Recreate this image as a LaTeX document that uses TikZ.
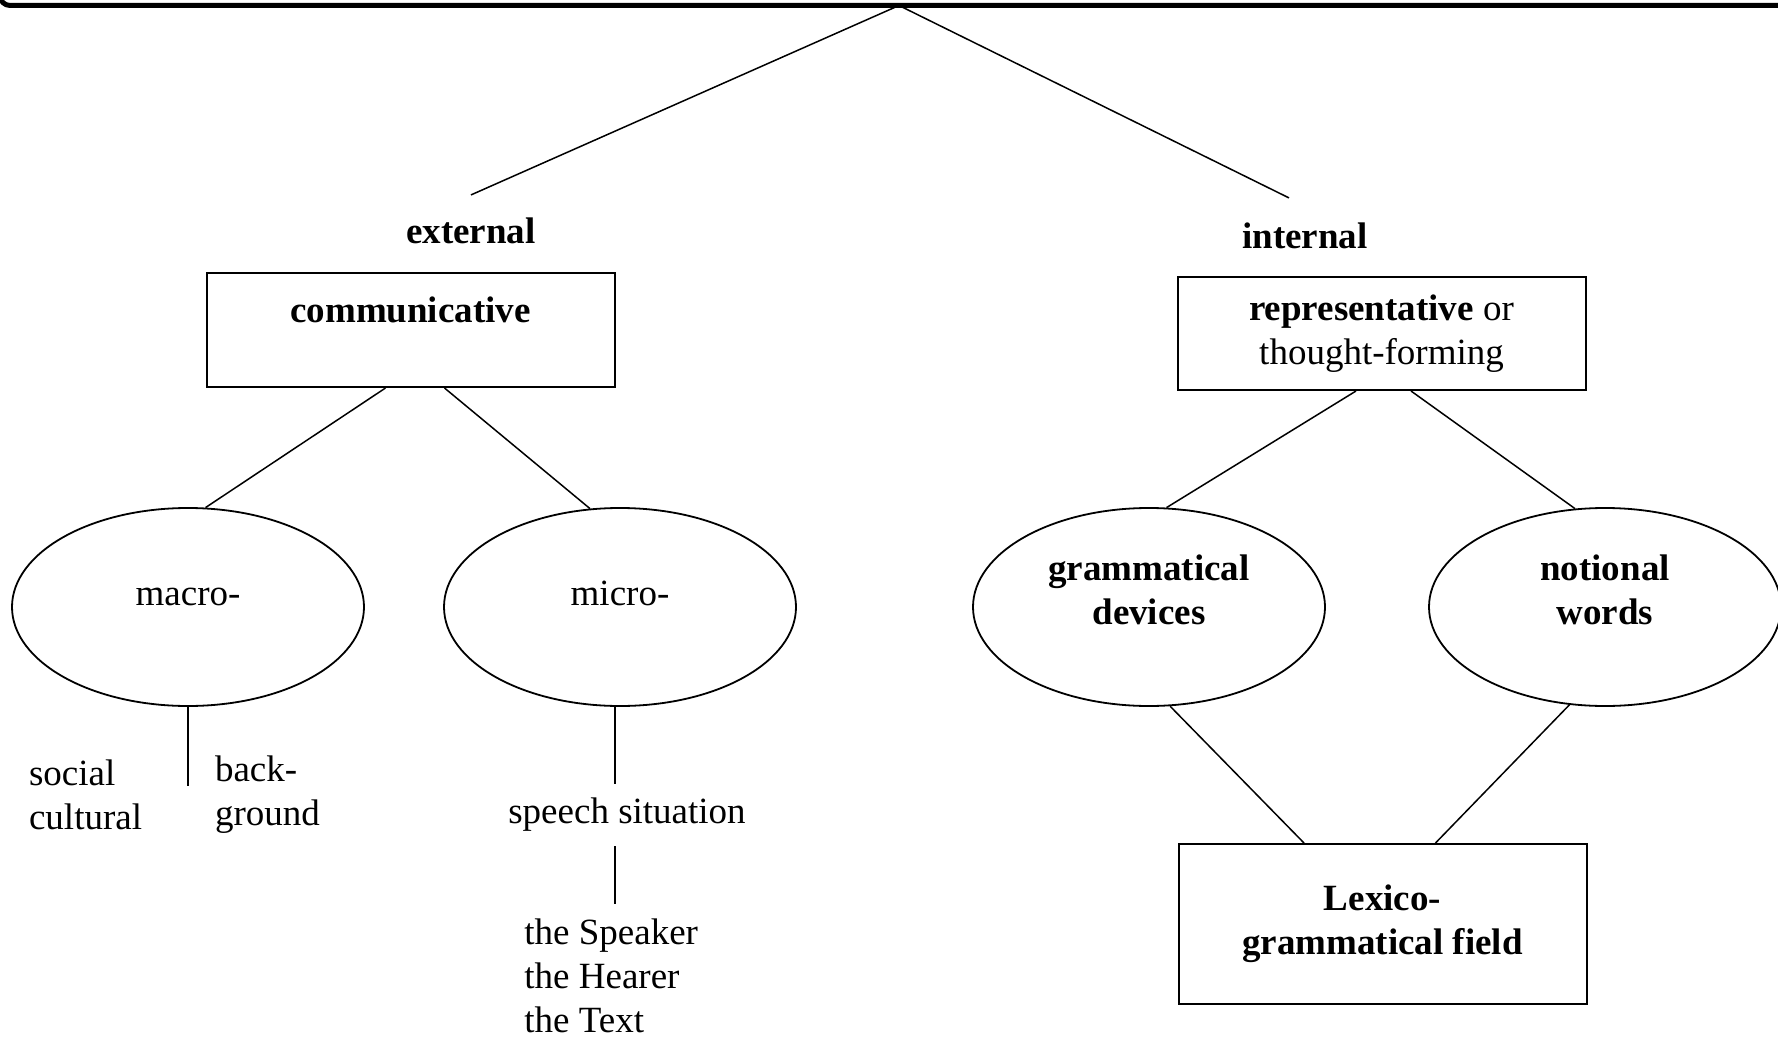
\documentclass[tikz,border=0pt]{standalone}
\usepackage{fontspec}
\setmainfont{Liberation Serif}
\usetikzlibrary{shapes.geometric}

\newcommand{\diagfont}{\fontsize{18.5pt}{22pt}\selectfont}

\tikzset{
    frame/.style={draw, rectangle, line width=1pt, minimum width=204pt, inner sep=0pt, align=center},
    oval/.style={draw, ellipse, line width=0.9pt, minimum width=176pt, minimum height=99pt, inner sep=0pt},
    bold/.style={font=\diagfont\bfseries},
    txt/.style={inner sep=7pt, align=center},
    branch/.style={line width=0.75pt},
}

\begin{document}
\begin{tikzpicture}[x=0.5pt, y=-0.5pt, font=\diagfont]
    \useasboundingbox (0,0) rectangle (1778,1038);
    \clip (0,0) rectangle (1778,1038);

    % top edge of the frame above
    \draw[line width=2.5pt, rounded corners=5pt] (0,-20) -- (0,5.5) -- (1800,5.5);
    \coordinate (apex) at (899,5.5);

    \node[bold] (ext) at (471,231) {external};
    \node[bold] (int) at (1305,236) {internal};

    \node[frame, bold, text height=24.5pt, text depth=32.5pt] (comm) at (410.5,330) {communicative};
    \node[frame, minimum height=56.5pt] (rep) at (1381.5,333.5) {\textbf{representative} or\\thought-forming};

    \node[oval] (macro) at (188,607) {};
    \node[oval] (micro) at (620,607) {};
    \node[oval] (gram) at (1149,607) {};
    \node[oval] (notion) at (1605,607) {};

    \node (macrotxt) at ([yshift=4.8pt]macro.center) {macro-};
    \node (microtxt) at ([yshift=7pt]micro.center) {micro-};
    \node[bold, align=center] (gramtxt) at ([yshift=8.5pt]gram.center) {grammatical\\devices};
    \node[bold, align=center] (notiontxt) at ([yshift=8.5pt]notion.center) {notional\\words};

    \node[anchor=west, align=left] (social) at (22,795) {social\\cultural};
    \node[anchor=west, align=left] (backgr) at (208,795) {back-\\ground};
    \node[txt] (speech) at (627,815) {speech situation};
    \node[txt, anchor=north west, align=left] (parts) at (510,904) {the Speaker\\the Hearer\\the Text};

    \node[frame, bold, minimum height=80pt] (lex) at (1382.5,924) {Lexico-\\grammatical field};

    % branches
    \draw[branch] (apex) -- ([yshift=8pt]ext.north);
    \draw[branch] (apex) -- ([xshift=-8pt, yshift=9pt]int.north);
    \draw[branch] ([xshift=-12.5pt]comm.south) -- (macro.80);
    \draw[branch] ([xshift=17pt]comm.south) -- (micro.107);
    \draw[branch] ([xshift=-12.75pt]rep.south) -- (gram.80);
    \draw[branch] ([xshift=14.75pt]rep.south) -- (notion.107);
    \draw[branch] (gram.-78) -- ([xshift=-39.25pt]lex.north);
    \draw[branch] (notion.-110) -- ([xshift=26.5pt]lex.north);

    \coordinate (macroleg) at (188,786);
    \draw[branch] (macro.south) -- (macroleg);
    \coordinate (stem) at ([xshift=-2.5pt]micro.south);
    \draw[branch] (stem) -- (stem |- speech.north);
    \draw[branch] (stem |- speech.south) -- (stem |- parts.north);
\end{tikzpicture}
\end{document}
